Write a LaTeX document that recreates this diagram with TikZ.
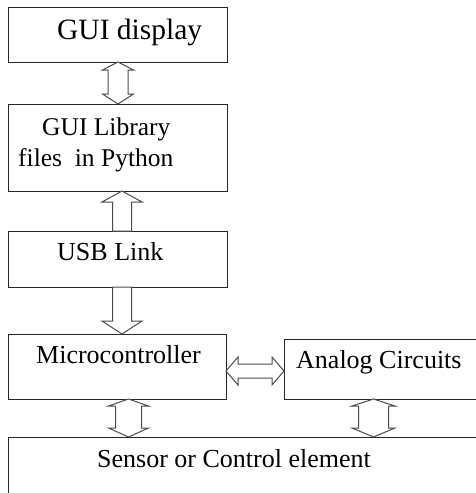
\documentclass[tikz,border=0pt]{standalone}
\usepackage{fontspec}
\setmainfont{Liberation Serif}
\usetikzlibrary{calc}

% vertical double-headed block arrow between two anchors
% #1 upper anchor, #2 lower anchor, #3 centre x, #4 head half width,
% #5 shaft half width, #6 upper head length, #7 lower head length
\newcommand{\vdblock}[7]{%
  \draw[blockarrow] let \p1=(#1), \p2=(#2) in
    (#3pt,\y1) -- (#3pt+#4pt,\y1-#6pt) -- (#3pt+#5pt,\y1-#6pt)
    -- (#3pt+#5pt,\y2+#7pt) -- (#3pt+#4pt,\y2+#7pt) -- (#3pt,\y2)
    -- (#3pt-#4pt,\y2+#7pt) -- (#3pt-#5pt,\y2+#7pt)
    -- (#3pt-#5pt,\y1-#6pt) -- (#3pt-#4pt,\y1-#6pt) -- cycle;}

% vertical single-headed block arrow pointing up to #1 from #2
\newcommand{\upblock}[6]{%
  \draw[blockarrow] let \p1=(#1), \p2=(#2) in
    (#3pt,\y1) -- (#3pt+#4pt,\y1-#6pt) -- (#3pt+#5pt,\y1-#6pt)
    -- (#3pt+#5pt,\y2) -- (#3pt-#5pt,\y2)
    -- (#3pt-#5pt,\y1-#6pt) -- (#3pt-#4pt,\y1-#6pt) -- cycle;}

% vertical single-headed block arrow pointing down from #1 to #2
\newcommand{\downblock}[6]{%
  \draw[blockarrow] let \p1=(#1), \p2=(#2) in
    (#3pt-#5pt,\y1) -- (#3pt+#5pt,\y1) -- (#3pt+#5pt,\y2+#6pt)
    -- (#3pt+#4pt,\y2+#6pt) -- (#3pt,\y2) -- (#3pt-#4pt,\y2+#6pt)
    -- (#3pt-#5pt,\y2+#6pt) -- cycle;}

% horizontal double-headed block arrow between a left and a right anchor
\newcommand{\hdblock}[6]{%
  \draw[blockarrow] let \p1=(#1), \p2=(#2) in
    (\x1,-#3pt) -- (\x1+#6pt,-#3pt+#4pt) -- (\x1+#6pt,-#3pt+#5pt)
    -- (\x2-#6pt,-#3pt+#5pt) -- (\x2-#6pt,-#3pt+#4pt) -- (\x2,-#3pt)
    -- (\x2-#6pt,-#3pt-#4pt) -- (\x2-#6pt,-#3pt-#5pt)
    -- (\x1+#6pt,-#3pt-#5pt) -- (\x1+#6pt,-#3pt-#4pt) -- cycle;}

\begin{document}
\begin{tikzpicture}[x=1pt,y=-1pt,
  box/.style={draw=black!85, line width=1pt, anchor=north west,
    inner sep=0pt, outer sep=0pt},
  label/.style={anchor=base west, inner sep=0pt, font=\fontsize{26}{30}\selectfont},
  blockarrow/.style={draw=black!70, fill=white, line width=1pt, line join=miter}]
  \useasboundingbox (0,0) rectangle (476,493);
  \clip (0,0) rectangle (476,493);

  % boxes
  \node[box, minimum width=219pt, minimum height=55pt] (gui) at (8,7) {};
  \node[box, minimum width=219pt, minimum height=87pt] (lib) at (8,104) {};
  \node[box, minimum width=219pt, minimum height=56pt] (usb) at (8,231) {};
  \node[box, minimum width=218pt, minimum height=65pt] (mcu) at (8,334) {};
  \node[box, minimum width=200pt, minimum height=60pt] (ana) at (284,339) {};
  \node[box, minimum width=480pt, minimum height=70pt] (sen) at (8,437) {};

  % texts
  \node[label, font=\fontsize{29.5}{34}\selectfont] (tgui) at (57,39) {GUI display};
  \node[label, font=\fontsize{25.5}{30}\selectfont] (tlib1) at (42,135) {GUI Library};
  \node[label, font=\fontsize{25.5}{30}\selectfont] (tlib2) at (18,166) {files\ \ in Python};
  \node[label] (tusb) at (57,260) {USB Link};
  \node[label] (tmcu) at (36,363) {Microcontroller};
  \node[label] (tana) at (296,368) {Analog Circuits};
  \node[label] (tsen) at (97,467) {Sensor or Control element};

  % connectors
  \vdblock{gui.south}{lib.north}{118}{15.5}{10}{8}{10}
  \upblock{lib.south}{usb.north}{122}{20}{9.5}{11}
  \downblock{usb.south}{mcu.north}{122}{20}{9.5}{13}
  \hdblock{mcu.east}{ana.west}{371}{14}{7}{12}
  \vdblock{mcu.south}{sen.north}{128.5}{20}{13}{7}{9}
  \vdblock{ana.south}{sen.north}{373.5}{21.5}{15}{7}{9}
\end{tikzpicture}
\end{document}
